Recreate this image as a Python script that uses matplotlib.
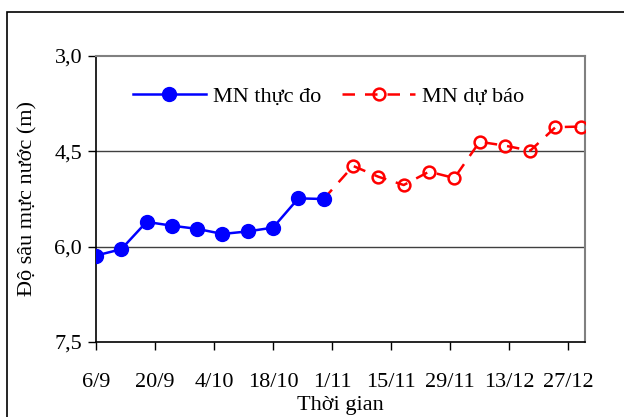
import pandas as pd
import matplotlib
matplotlib.use("Agg")
import matplotlib.pyplot as plt
import matplotlib.dates as mdates
from matplotlib.patches import Rectangle

plt.rcParams["font.family"] = ["Liberation Serif", "DejaVu Serif"]

# measured water depth (every 6 days) and forecast
obs_dates = ["2009-09-06", "2009-09-12", "2009-09-18", "2009-09-24", "2009-09-30",
             "2009-10-06", "2009-10-12", "2009-10-18", "2009-10-24", "2009-10-30"]
obs_depth = [6.14, 6.04, 5.61, 5.67, 5.72, 5.80, 5.76, 5.70, 5.24, 5.25]

fc_dates = ["2009-11-06", "2009-11-12", "2009-11-18", "2009-11-24", "2009-11-30",
            "2009-12-06", "2009-12-12", "2009-12-18", "2009-12-24", "2009-12-30"]
fc_depth = [4.73, 4.90, 5.03, 4.82, 4.92, 4.35, 4.41, 4.49, 4.12, 4.11]

tick_dates = pd.date_range("2009-09-06", periods=9, freq="14D")
tick_labels = [f"{d.day}/{d.month}" for d in tick_dates]
y_ticks = [3.0, 4.5, 6.0, 7.5]

obs_x = pd.to_datetime(obs_dates)
fc_x = pd.to_datetime(fc_dates)

fig = plt.figure(figsize=(6.24, 4.17), dpi=100)
ax = fig.add_axes([96 / 624, 1 - 342 / 417, 489 / 624, 286 / 417])

# forecast line starts from the last measured point
ax.plot([obs_x[-1]] + list(fc_x), [obs_depth[-1]] + fc_depth, color="red", lw=1.8,
        dashes=(5, 4), marker="o", ms=8.5, mfc="none", mec="red", mew=1.8,
        markevery=list(range(1, len(fc_x) + 1)), label="MN dự báo", zorder=3)
ax.plot(obs_x, obs_depth, color="blue", lw=1.8, marker="o", ms=10,
        mfc="blue", mec="blue", label="MN thực đo", zorder=4)

ax.set_ylim(7.5, 3.0)
ax.set_yticks(y_ticks)
ax.set_yticklabels([f"{v:.1f}".replace(".", ",") for v in y_ticks])
ax.set_xlim(mdates.date2num(pd.Timestamp("2009-09-06")),
            mdates.date2num(pd.Timestamp("2009-12-31")))
ax.set_xticks(tick_dates)
ax.set_xticklabels(tick_labels)

for v in [4.5, 6.0]:
    ax.axhline(v, color="#404040", lw=1.0, zorder=1)

ax.spines["top"].set_color("#808080")
ax.spines["right"].set_color("#808080")
ax.spines["top"].set_linewidth(1.5)
ax.spines["right"].set_linewidth(1.5)
ax.spines["left"].set_linewidth(1.2)
ax.spines["bottom"].set_linewidth(1.2)
ax.tick_params(axis="both", labelsize=16, direction="out", length=6, width=1.0)
ax.tick_params(axis="x", pad=16)
ax.tick_params(axis="y", pad=4)

ax.set_xlabel("Thời gian", fontsize=16, labelpad=3)
ax.set_ylabel("Độ sâu mực nước (m)", fontsize=16, labelpad=12)

handles, labels = ax.get_legend_handles_labels()
ax.legend(handles[::-1], labels[::-1], ncol=2, frameon=False, fontsize=16,
          loc="center left", bbox_to_anchor=(0.075, 0.857), borderaxespad=0,
          borderpad=0, handlelength=3.3, handletextpad=0.3, columnspacing=0.95)

fig.add_artist(Rectangle((7 / 624, -0.1), 2, 1 - 12 / 417 + 0.1,
                         transform=fig.transFigure, fill=False, lw=1.2,
                         edgecolor="black"))

fig.savefig("out.png", dpi=100)
